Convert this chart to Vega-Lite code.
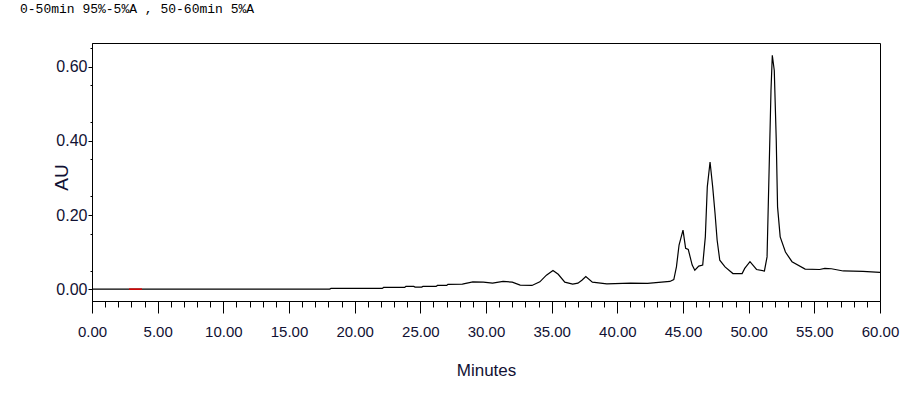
{
  "$schema": "https://vega.github.io/schema/vega-lite/v6.json",
  "width": 788,
  "height": 258,
  "autosize": "none",
  "padding": {"left": 92, "top": 43, "right": 31, "bottom": 109},
  "background": "white",
  "config": {"view": {"stroke": "black", "strokeWidth": 1, "fill": "white"}},
  "title": {"text": "0-50min 95%-5%A , 50-60min 5%A", "anchor": "start", "frame": "group", "dx": -72, "offset": 17, "baseline": "alphabetic", "font": "Liberation Mono", "fontSize": 13, "fontWeight": "normal", "color": "#000000"},
  "datasets": {
    "trace": [
      {"t": 0, "au": 0.0}, {"t": 18.1, "au": 0.0}, {"t": 18.2, "au": 0.002}, {"t": 22.1, "au": 0.002},
      {"t": 22.2, "au": 0.0046}, {"t": 23.8, "au": 0.0046}, {"t": 23.9, "au": 0.0073}, {"t": 24.5, "au": 0.0073},
      {"t": 24.6, "au": 0.0054}, {"t": 25.1, "au": 0.0054}, {"t": 25.2, "au": 0.0073}, {"t": 26.2, "au": 0.0073},
      {"t": 26.3, "au": 0.010}, {"t": 27.0, "au": 0.010}, {"t": 27.1, "au": 0.0127}, {"t": 28.2, "au": 0.0135},
      {"t": 29.0, "au": 0.0197}, {"t": 29.8, "au": 0.0189}, {"t": 30.5, "au": 0.016}, {"t": 31.3, "au": 0.0208},
      {"t": 32.0, "au": 0.0189}, {"t": 32.6, "au": 0.0108}, {"t": 33.5, "au": 0.010}, {"t": 34.1, "au": 0.0197},
      {"t": 34.6, "au": 0.0377}, {"t": 35.1, "au": 0.0504}, {"t": 35.5, "au": 0.040}, {"t": 36.0, "au": 0.019},
      {"t": 36.6, "au": 0.0135}, {"t": 37.0, "au": 0.016}, {"t": 37.3, "au": 0.024}, {"t": 37.6, "au": 0.034},
      {"t": 38.1, "au": 0.019}, {"t": 39.2, "au": 0.0143}, {"t": 41.0, "au": 0.016}, {"t": 42.3, "au": 0.0154},
      {"t": 44.0, "au": 0.0208}, {"t": 44.3, "au": 0.026}, {"t": 44.5, "au": 0.060}, {"t": 44.7, "au": 0.119},
      {"t": 45.0, "au": 0.159}, {"t": 45.2, "au": 0.110}, {"t": 45.4, "au": 0.107}, {"t": 45.7, "au": 0.065},
      {"t": 45.9, "au": 0.051}, {"t": 46.2, "au": 0.062}, {"t": 46.5, "au": 0.065}, {"t": 46.7, "au": 0.141},
      {"t": 46.85, "au": 0.276}, {"t": 47.06, "au": 0.343}, {"t": 47.26, "au": 0.276}, {"t": 47.44, "au": 0.204},
      {"t": 47.6, "au": 0.132}, {"t": 47.8, "au": 0.078}, {"t": 48.2, "au": 0.060}, {"t": 48.8, "au": 0.042},
      {"t": 49.5, "au": 0.042}, {"t": 49.7, "au": 0.056}, {"t": 50.1, "au": 0.074}, {"t": 50.6, "au": 0.053},
      {"t": 51.2, "au": 0.049}, {"t": 51.4, "au": 0.087}, {"t": 51.55, "au": 0.312}, {"t": 51.7, "au": 0.536},
      {"t": 51.8, "au": 0.631}, {"t": 51.95, "au": 0.590}, {"t": 52.1, "au": 0.402}, {"t": 52.2, "au": 0.222},
      {"t": 52.4, "au": 0.141}, {"t": 52.8, "au": 0.100}, {"t": 53.3, "au": 0.074}, {"t": 54.3, "au": 0.054},
      {"t": 55.4, "au": 0.053}, {"t": 55.8, "au": 0.056}, {"t": 56.3, "au": 0.055}, {"t": 57.2, "au": 0.049},
      {"t": 58.7, "au": 0.048}, {"t": 60.0, "au": 0.045}
    ],
    "marker": [{"t": 2.82, "au": 0.0}, {"t": 3.81, "au": 0.0}]
  },
  "layer": [
    {
      "data": {"name": "trace"},
      "mark": {"type": "line", "color": "black", "strokeWidth": 1.2},
      "encoding": {
        "x": {
          "field": "t", "type": "quantitative",
          "scale": {"domain": [0, 60], "nice": false, "zero": false},
          "axis": {
            "title": "Minutes", "orient": "bottom",
            "values": [0, 5, 10, 15, 20, 25, 30, 35, 40, 45, 50, 55, 60],
            "format": ".2f", "grid": false, "tickSize": 12, "tickColor": "black", "tickWidth": 1,
            "domainColor": "black", "domainWidth": 1, "labelFlush": false, "labelOverlap": false,
            "labelPadding": 11, "labelFont": "Liberation Sans",
            "labelFontSize": 15, "labelColor": "#111133",
            "titleFont": "Liberation Sans", "titleFontSize": 17,
            "titleFontWeight": "normal", "titleColor": "#111133", "titleY": 74, "titleBaseline": "alphabetic"
          }
        },
        "y": {
          "field": "au", "type": "quantitative",
          "scale": {"domain": [-0.032, 0.664], "nice": false, "zero": false},
          "axis": {
            "title": "AU", "orient": "left",
            "values": [0, 0.2, 0.4, 0.6],
            "format": ".2f", "grid": false, "tickSize": 4, "tickColor": "black", "tickWidth": 1,
            "domainColor": "black", "domainWidth": 1, "labelFlush": false, "labelOverlap": false,
            "labelPadding": 1, "labelFont": "Liberation Sans",
            "labelFontSize": 16, "labelColor": "#111133",
            "titleFont": "Liberation Sans", "titleFontSize": 19,
            "titleFontWeight": "normal", "titleColor": "#111133",
            "titleX": -31, "titleY": 134, "titleAngle": -90, "titleAlign": "center", "titleBaseline": "middle"
          }
        }
      }
    },
    {
      "data": {"name": "marker"},
      "mark": {"type": "line", "color": "#e00000", "strokeWidth": 1.5},
      "encoding": {
        "x": {
          "field": "t", "type": "quantitative",
          "scale": {"domain": [0, 60], "nice": false, "zero": false},
          "axis": {
            "orient": "bottom", "title": null, "labels": false, "domain": false, "grid": false,
            "tickSize": 6, "tickColor": "black", "tickWidth": 1,
            "values": [0,1,2,3,4,5,6,7,8,9,10,11,12,13,14,15,16,17,18,19,20,21,22,23,24,25,26,27,28,29,30,31,32,33,34,35,36,37,38,39,40,41,42,43,44,45,46,47,48,49,50,51,52,53,54,55,56,57,58,59,60]
          }
        },
        "y": {
          "field": "au", "type": "quantitative",
          "scale": {"domain": [-0.032, 0.664], "nice": false, "zero": false},
          "axis": {
            "orient": "left", "title": null, "labels": false, "domain": false, "grid": false,
            "tickSize": 2, "tickColor": "black", "tickWidth": 1,
            "values": [0.05, 0.15, 0.25, 0.35, 0.45, 0.55, 0.65]
          }
        }
      }
    }
  ],
  "resolve": {"axis": {"x": "independent", "y": "independent"}}
}
